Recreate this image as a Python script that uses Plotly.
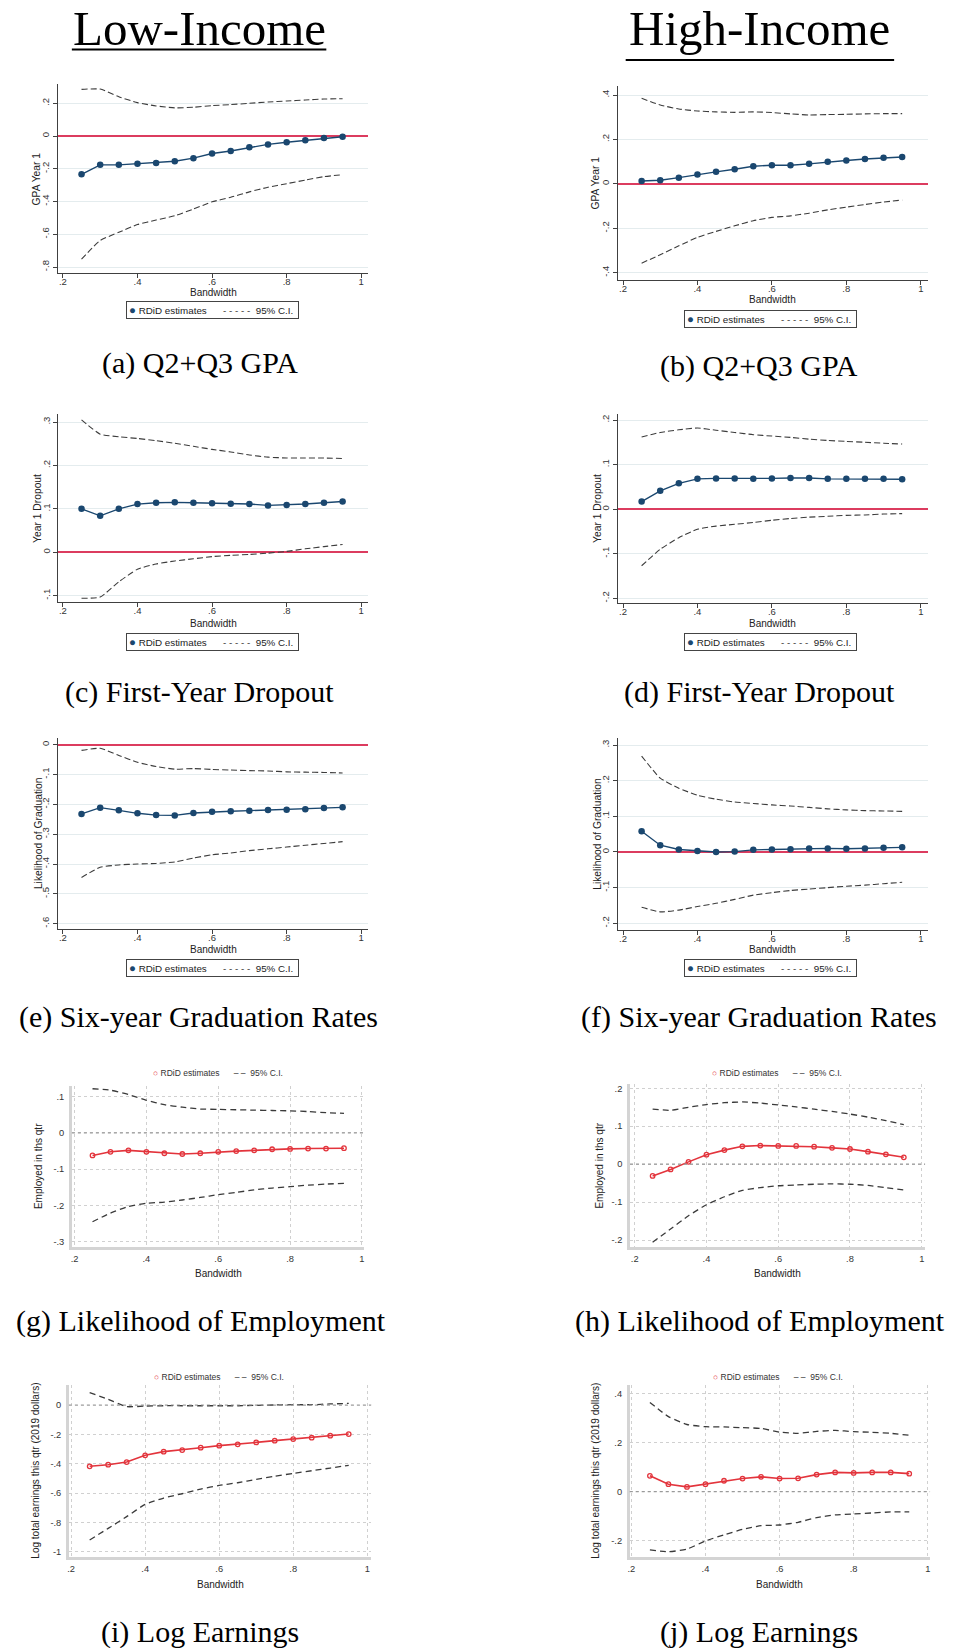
import plotly.graph_objects as go

W, H = 958, 1648
SANS = "Liberation Sans, Arial, sans-serif"
SERIF = "Liberation Serif, Times New Roman, serif"

# ---------------- data ----------------
bandwidth = [0.25, 0.30, 0.35, 0.40, 0.45, 0.50, 0.55, 0.60, 0.65, 0.70, 0.75, 0.80, 0.85, 0.90, 0.95]
x_ticks = [0.2, 0.4, 0.6, 0.8, 1.0]

# (a) Low-income Q2+Q3 GPA
a_est = [-0.234, -0.176, -0.176, -0.170, -0.164, -0.154, -0.135, -0.107, -0.091, -0.069, -0.051, -0.038, -0.026, -0.012, -0.004]
a_hi = [0.285, 0.287, 0.240, 0.204, 0.184, 0.172, 0.176, 0.186, 0.192, 0.200, 0.208, 0.214, 0.220, 0.226, 0.228]
a_lo = [-0.752, -0.638, -0.588, -0.541, -0.513, -0.487, -0.446, -0.402, -0.374, -0.341, -0.313, -0.291, -0.269, -0.248, -0.236]
a_yticks = [-0.8, -0.6, -0.4, -0.2, 0, 0.2]

# (b) High-income Q2+Q3 GPA
b_est = [0.013, 0.016, 0.028, 0.042, 0.054, 0.066, 0.079, 0.084, 0.084, 0.090, 0.099, 0.105, 0.112, 0.118, 0.121]
b_hi = [0.385, 0.355, 0.337, 0.328, 0.324, 0.322, 0.324, 0.321, 0.315, 0.310, 0.312, 0.313, 0.315, 0.316, 0.316]
b_lo = [-0.357, -0.319, -0.279, -0.241, -0.214, -0.189, -0.166, -0.151, -0.144, -0.132, -0.117, -0.105, -0.093, -0.082, -0.073]
b_yticks = [-0.4, -0.2, 0, 0.2, 0.4]

# (c) Low-income first-year dropout
c_est = [0.100, 0.084, 0.100, 0.111, 0.114, 0.115, 0.114, 0.113, 0.112, 0.111, 0.108, 0.109, 0.111, 0.114, 0.117]
c_hi = [0.305, 0.272, 0.266, 0.262, 0.257, 0.251, 0.244, 0.237, 0.231, 0.224, 0.219, 0.217, 0.217, 0.217, 0.216]
c_lo = [-0.106, -0.103, -0.068, -0.039, -0.027, -0.020, -0.015, -0.010, -0.007, -0.005, -0.002, 0.002, 0.008, 0.013, 0.018]
c_yticks = [-0.1, 0, 0.1, 0.2, 0.3]

# (d) High-income first-year dropout
d_est = [0.017, 0.041, 0.058, 0.068, 0.069, 0.069, 0.068, 0.069, 0.070, 0.070, 0.068, 0.068, 0.068, 0.068, 0.067]
d_hi = [0.162, 0.172, 0.178, 0.182, 0.177, 0.172, 0.167, 0.164, 0.161, 0.157, 0.154, 0.152, 0.150, 0.148, 0.146]
d_lo = [-0.127, -0.090, -0.064, -0.045, -0.038, -0.034, -0.030, -0.025, -0.021, -0.018, -0.016, -0.014, -0.013, -0.011, -0.010]
d_yticks = [-0.2, -0.1, 0, 0.1, 0.2]

# (e) Low-income six-year graduation
e_est = [-0.232, -0.211, -0.220, -0.230, -0.236, -0.237, -0.229, -0.225, -0.223, -0.221, -0.219, -0.218, -0.216, -0.212, -0.210]
e_hi = [-0.019, -0.012, -0.036, -0.059, -0.073, -0.082, -0.080, -0.083, -0.085, -0.087, -0.088, -0.091, -0.092, -0.093, -0.095]
e_lo = [-0.445, -0.411, -0.403, -0.400, -0.398, -0.393, -0.380, -0.369, -0.363, -0.355, -0.349, -0.343, -0.337, -0.331, -0.325]
e_yticks = [-0.6, -0.5, -0.4, -0.3, -0.2, -0.1, 0]

# (f) High-income six-year graduation
f_est = [0.058, 0.019, 0.007, 0.003, 0.000, 0.001, 0.006, 0.007, 0.008, 0.010, 0.010, 0.009, 0.010, 0.012, 0.013]
f_hi = [0.269, 0.207, 0.179, 0.159, 0.148, 0.140, 0.136, 0.132, 0.129, 0.125, 0.121, 0.118, 0.116, 0.115, 0.114]
f_lo = [-0.155, -0.168, -0.163, -0.153, -0.144, -0.133, -0.121, -0.114, -0.108, -0.104, -0.100, -0.096, -0.093, -0.089, -0.085]
f_yticks = [-0.2, -0.1, 0, 0.1, 0.2, 0.3]

# (g) Low-income employment
g_est = [-0.062, -0.052, -0.048, -0.052, -0.056, -0.058, -0.056, -0.052, -0.050, -0.048, -0.045, -0.044, -0.043, -0.043, -0.042]
g_hi = [0.122, 0.118, 0.106, 0.090, 0.078, 0.071, 0.066, 0.065, 0.064, 0.063, 0.062, 0.061, 0.059, 0.056, 0.054]
g_lo = [-0.245, -0.221, -0.203, -0.194, -0.191, -0.185, -0.178, -0.170, -0.164, -0.157, -0.152, -0.148, -0.144, -0.141, -0.139]
g_yticks = [-0.3, -0.2, -0.1, 0, 0.1]

# (h) High-income employment
h_est = [-0.031, -0.014, 0.006, 0.025, 0.037, 0.047, 0.049, 0.048, 0.048, 0.046, 0.043, 0.040, 0.033, 0.026, 0.018]
h_hi = [0.145, 0.142, 0.150, 0.157, 0.162, 0.164, 0.161, 0.156, 0.151, 0.145, 0.139, 0.132, 0.124, 0.115, 0.104]
h_lo = [-0.206, -0.171, -0.136, -0.107, -0.086, -0.069, -0.062, -0.057, -0.055, -0.053, -0.052, -0.053, -0.056, -0.062, -0.068]
h_yticks = [-0.2, -0.1, 0, 0.1, 0.2]

# (i) Low-income log earnings
i_est = [-0.418, -0.407, -0.389, -0.343, -0.318, -0.307, -0.291, -0.277, -0.268, -0.255, -0.243, -0.232, -0.223, -0.209, -0.198]
i_hi = [0.084, 0.039, -0.011, -0.007, -0.005, -0.005, -0.005, -0.005, -0.005, -0.002, 0.000, 0.002, 0.002, 0.007, 0.011]
i_lo = [-0.920, -0.841, -0.761, -0.677, -0.634, -0.605, -0.573, -0.548, -0.530, -0.507, -0.486, -0.466, -0.448, -0.430, -0.411]
i_yticks = [-1.0, -0.8, -0.6, -0.4, -0.2, 0]

# (j) High-income log earnings
j_est = [0.064, 0.030, 0.019, 0.030, 0.044, 0.053, 0.060, 0.053, 0.054, 0.069, 0.078, 0.076, 0.078, 0.078, 0.073]
j_hi = [0.363, 0.305, 0.273, 0.264, 0.263, 0.260, 0.257, 0.242, 0.237, 0.245, 0.249, 0.244, 0.241, 0.237, 0.229]
j_lo = [-0.237, -0.245, -0.234, -0.201, -0.176, -0.154, -0.139, -0.136, -0.125, -0.106, -0.095, -0.091, -0.087, -0.083, -0.083]
j_yticks = [-0.2, 0, 0.2, 0.4]

column_titles = ["Low-Income", "High-Income"]
captions = ["(a) Q2+Q3 GPA", "(b) Q2+Q3 GPA", "(c) First-Year Dropout", "(d) First-Year Dropout",
            "(e) Six-year Graduation Rates", "(f) Six-year Graduation Rates",
            "(g) Likelihood of Employment", "(h) Likelihood of Employment",
            "(i) Log Earnings", "(j) Log Earnings"]
y_titles = ["GPA Year 1", "GPA Year 1", "Year 1 Dropout", "Year 1 Dropout",
            "Likelihood of Graduation", "Likelihood of Graduation",
            "Employed in ths qtr", "Employed in ths qtr",
            "Log total earnings this qtr (2019 dollars)", "Log total earnings this qtr (2019 dollars)"]
x_title = "Bandwidth"
est_name = "RDiD estimates"
ci_name = "95% C.I."


def fmt(v):
    if abs(v) < 1e-9:
        return "0"
    return f"{v:g}".replace("0.", ".")


def px_x(p):
    return p / W


def px_y(p):
    return 1 - p / H


def lin(p, p0, v0, p1, v1):
    return v0 + (p - p0) * (v1 - v0) / (p1 - p0)


# layout geometry (pixels) per panel
panels = [
    dict(est=a_est, hi=a_hi, lo=a_lo, yt=a_yticks, new=False, xdom=(56, 367), ydom=(84, 273),
         xcal=(61, 360), ycal=(103.3, 0.2, 267, -0.8), ytx=35, xty=292.3, leg=(211, 310.2), cap=(198, 363)),
    dict(est=b_est, hi=b_hi, lo=b_lo, yt=b_yticks, new=False, xdom=(617, 928), ydom=(86, 279.5),
         xcal=(622.3, 920.7), ycal=(95, 0.4, 272.7, -0.4), ytx=595, xty=299, leg=(770, 318.5), cap=(759, 366)),
    dict(est=c_est, hi=c_hi, lo=c_lo, yt=c_yticks, new=False, xdom=(56.5, 367), ydom=(414, 602),
         xcal=(61, 360), ycal=(422, 0.3, 595.7, -0.1), ytx=36, xty=623.7, leg=(211, 641.5), cap=(198, 692)),
    dict(est=d_est, hi=d_hi, lo=d_lo, yt=d_yticks, new=False, xdom=(617, 928), ydom=(414, 603),
         xcal=(622.3, 920.7), ycal=(420, 0.2, 598.3, -0.2), ytx=596.7, xty=623.7, leg=(770, 641.5), cap=(759, 692)),
    dict(est=e_est, hi=e_hi, lo=e_lo, yt=e_yticks, new=False, xdom=(56, 367), ydom=(738, 929),
         xcal=(61, 360), ycal=(744.7, 0, 923.7, -0.6), ytx=36.7, xty=949, leg=(211, 967.5), cap=(197, 1017)),
    dict(est=f_est, hi=f_hi, lo=f_lo, yt=f_yticks, new=False, xdom=(617, 928), ydom=(738, 929.5),
         xcal=(622.3, 920.7), ycal=(745, 0.3, 923.3, -0.2), ytx=597.3, xty=949, leg=(770, 967.5), cap=(759, 1017)),
    dict(est=g_est, hi=g_hi, lo=g_lo, yt=g_yticks, new=True, xdom=(70, 363), ydom=(1086, 1247),
         xcal=(72.7, 360.7), ycal=(1096.7, 0.1, 1241.7, -0.3), ytx=36.7, xty=1273.3, leg=(216, 1073.3), cap=(199, 1321)),
    dict(est=h_est, hi=h_hi, lo=h_lo, yt=h_yticks, new=True, xdom=(629.3, 925), ydom=(1084, 1247),
         xcal=(634, 921.7), ycal=(1088.3, 0.2, 1240, -0.2), ytx=598.3, xty=1273.3, leg=(777, 1073.3), cap=(760, 1321)),
    dict(est=i_est, hi=i_hi, lo=i_lo, yt=i_yticks, new=True, xdom=(67, 370), ydom=(1385, 1557),
         xcal=(69.3, 366), ycal=(1405, 0, 1551.7, -1.0), ytx=32.7, xty=1584.3, leg=(217, 1377.3), cap=(198, 1632)),
    dict(est=j_est, hi=j_hi, lo=j_lo, yt=j_yticks, new=True, xdom=(629, 930), ydom=(1385, 1557),
         xcal=(630.7, 927.7), ycal=(1393.3, 0.4, 1540.7, -0.2), ytx=594, xty=1584.3, leg=(778, 1377.3), cap=(759, 1632)),
]

NAVY = "#1a476f"
RED = "#e3343c"
REFRED = "#dc3c5f"
NB = "\u00a0"

fig = go.Figure()
layout = {}
annotations = []
shapes = []

for k, p in enumerate(panels, start=1):
    sfx = "" if k == 1 else str(k)
    xa, ya = "x" + sfx, "y" + sfx
    new = p["new"]

    if new:
        mk = dict(symbol="circle-open", size=4.5, color=RED, line=dict(color=RED, width=1.3))
        est_line = dict(color=RED, width=1.6)
        ci_line = dict(color="#3a3a3a", width=1.3, dash="6px,4px", shape="spline", smoothing=0.5)
    else:
        mk = dict(symbol="circle", size=6.5, color=NAVY, line=dict(width=0))
        est_line = dict(color=NAVY, width=1.4)
        ci_line = dict(color="#3c3c3c", width=1.1, dash="6px,3px", shape="spline", smoothing=0.5)

    fig.add_trace(go.Scatter(x=bandwidth, y=p["est"], mode="lines+markers", xaxis=xa, yaxis=ya,
                             name=est_name, showlegend=False, line=est_line, marker=mk))
    fig.add_trace(go.Scatter(x=bandwidth, y=p["hi"], mode="lines", xaxis=xa, yaxis=ya,
                             name=ci_name, showlegend=False, line=ci_line))
    fig.add_trace(go.Scatter(x=bandwidth, y=p["lo"], mode="lines", xaxis=xa, yaxis=ya,
                             name=ci_name, showlegend=False, line=ci_line))

    x0p, x1p = p["xdom"]
    y0p, y1p = p["ydom"]
    xr = [lin(x0p, p["xcal"][0], 0.2, p["xcal"][1], 1.0), lin(x1p, p["xcal"][0], 0.2, p["xcal"][1], 1.0)]
    c = p["ycal"]
    yr = [lin(y1p, c[0], c[1], c[2], c[3]), lin(y0p, c[0], c[1], c[2], c[3])]

    tickfont = dict(family=SANS, size=9.3 if new else 9.5, color="#333333")
    xaxis = dict(domain=[px_x(x0p), px_x(x1p)], range=xr, anchor=ya, tickmode="array",
                 tickvals=x_ticks, ticktext=[fmt(v) for v in x_ticks], tickfont=tickfont,
                 zeroline=False, fixedrange=True)
    yaxis = dict(domain=[px_y(y1p), px_y(y0p)], range=yr, anchor=xa, tickmode="array",
                 tickvals=p["yt"], ticktext=[fmt(v) for v in p["yt"]], tickfont=tickfont,
                 fixedrange=True)
    if new:
        xaxis.update(showline=True, linecolor="#d4d4d4", linewidth=2.5, ticks="",
                     showgrid=True, gridcolor="#d0d0d0", griddash="dot", gridwidth=1,
                     ticklabelstandoff=1)
        yaxis.update(showline=True, linecolor="#d4d4d4", linewidth=2.5, ticks="",
                     showgrid=True, gridcolor="#d0d0d0", griddash="dot", gridwidth=1,
                     zeroline=False, tickangle=0, ticklabelstandoff=3)
        shapes.append(dict(type="line", xref=xa + " domain", x0=0, x1=1, yref=ya, y0=0, y1=0,
                           line=dict(color="#9a9a9a", width=1.2, dash="dot"), layer="above"))
    else:
        xaxis.update(showline=True, linecolor="#404040", linewidth=1, ticks="outside", ticklen=4,
                     tickcolor="#404040", showgrid=False, ticklabelstandoff=-4)
        yaxis.update(showline=True, linecolor="#404040", linewidth=1, ticks="outside", ticklen=4,
                     tickcolor="#404040", showgrid=True, gridcolor="#e4ecee", gridwidth=1,
                     zeroline=True, zerolinecolor=REFRED, zerolinewidth=1.6, tickangle=-90)
    layout["xaxis" + sfx] = xaxis
    layout["yaxis" + sfx] = yaxis

    # legend (text key)
    if new:
        legtext = (f'<span style="color:{RED}">○</span>{NB}{est_name}' + NB * 6 +
                   f'<span style="color:#333333">–{NB}–</span>{NB}{NB}{ci_name}')
        annotations.append(dict(text=legtext, xref="paper", yref="paper",
                                x=px_x(p["leg"][0]), y=px_y(p["leg"][1]), showarrow=False,
                                xanchor="center", yanchor="middle",
                                font=dict(family=SANS, size=8.5, color="#333333")))
    else:
        legtext = (f'<span style="color:{NAVY};font-size:11.5px">●</span>{NB}{est_name}' + NB * 6 +
                   f'<span style="color:#333333">-{NB}-{NB}-{NB}-{NB}-</span>{NB}{NB}{ci_name}{NB}')
        annotations.append(dict(text=legtext, xref="paper", yref="paper",
                                x=px_x(p["leg"][0]), y=px_y(p["leg"][1]), showarrow=False,
                                xanchor="center", yanchor="middle", bgcolor="white",
                                bordercolor="#444444", borderwidth=1, borderpad=2,
                                font=dict(family=SANS, size=9.8, color="#222222")))

    # axis titles
    annotations.append(dict(text=y_titles[k - 1], xref="paper", yref="paper",
                            x=px_x(p["ytx"]), y=px_y((y0p + y1p) / 2), textangle=-90,
                            showarrow=False, xanchor="center", yanchor="middle",
                            font=dict(family=SANS, size=10 if new else 10.3, color="#222222")))
    annotations.append(dict(text=x_title, xref="paper", yref="paper",
                            x=px_x((x0p + x1p) / 2), y=px_y(p["xty"]),
                            showarrow=False, xanchor="center", yanchor="middle",
                            font=dict(family=SANS, size=10, color="#222222")))
    # caption
    annotations.append(dict(text=captions[k - 1], xref="paper", yref="paper",
                            x=px_x(p["cap"][0]), y=px_y(p["cap"][1]),
                            showarrow=False, xanchor="center", yanchor="middle",
                            font=dict(family=SERIF, size=30, color="black")))

# column titles with underline
title_pos = [(197.7, 0, 70, 325, 49.5), (759, 0, 625, 894, 60)]
for t, (cx, ty, u0, u1, uy) in zip(column_titles, title_pos):
    annotations.append(dict(text=t, xref="paper", yref="paper", x=px_x(cx), y=px_y(ty),
                            showarrow=False, xanchor="center", yanchor="top", borderpad=0,
                            font=dict(family=SERIF, size=49, color="black")))
    shapes.append(dict(type="line", xref="paper", yref="paper", x0=px_x(u0), x1=px_x(u1),
                       y0=px_y(uy), y1=px_y(uy), line=dict(color="black", width=2)))

layout.update(width=W, height=H, margin=dict(l=0, r=0, t=0, b=0), paper_bgcolor="white",
              plot_bgcolor="white", annotations=annotations, shapes=shapes, hovermode=False,
              showlegend=False)
fig.update_layout(**layout)
fig.write_html("out.html")
